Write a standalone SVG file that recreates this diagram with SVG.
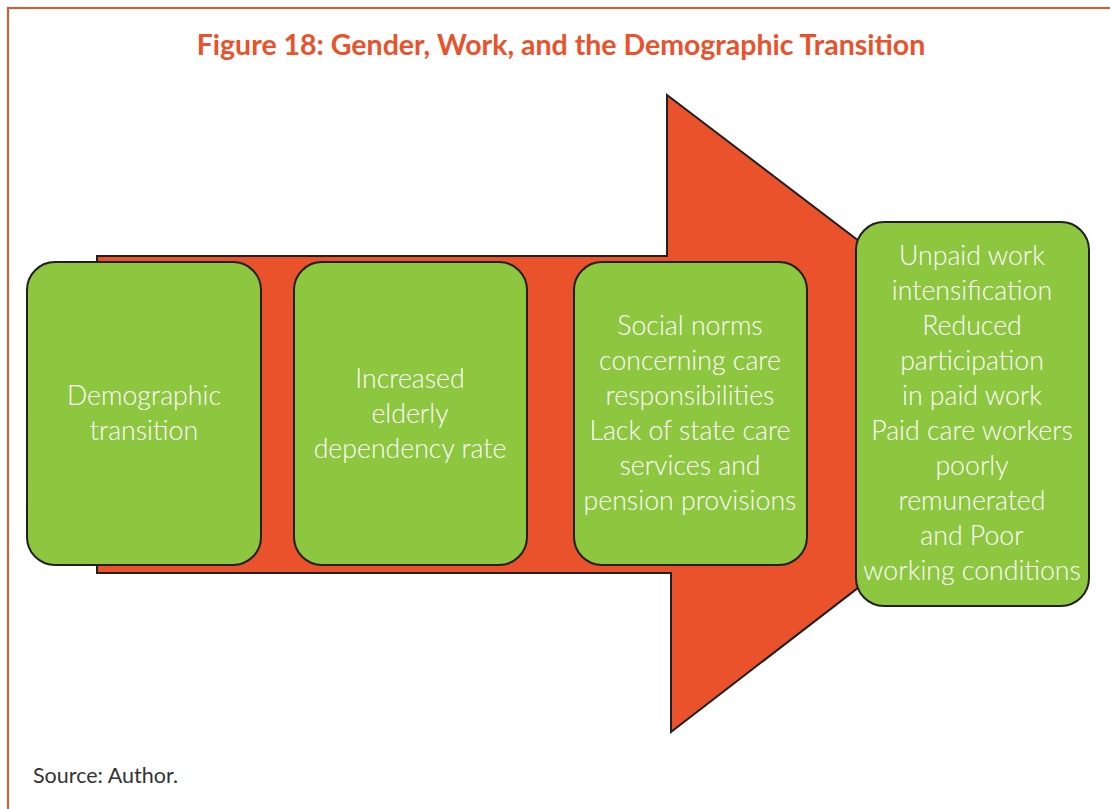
<svg xmlns="http://www.w3.org/2000/svg" width="1110" height="809" viewBox="0 0 1110 809">
<style>
.frame{fill:none;stroke:#E9522B;stroke-width:2}
.title{font-family:Lato,"Open Sans",sans-serif;font-weight:bold;font-size:28.5px;fill:#E9522B;text-anchor:middle}
.box{fill:#8DC63F;stroke:#231F20;stroke-width:2}
.arrow{fill:#E9522B;stroke:#231F20;stroke-width:2;stroke-linejoin:miter}
.lbl{font-family:Lato,"Open Sans",sans-serif;font-weight:300;font-size:26.7px;fill:#FFFFFF;text-anchor:middle}
.src{font-family:Lato,"Open Sans",sans-serif;font-size:21.5px;fill:#333333}
</style>
<rect width="1110" height="809" fill="#FFFFFF"/>
<path class="frame" d="M8,809 V8 H1110"/>
<text class="title" x="561" y="55">Figure 18: Gender, Work, and the Demographic Transition</text>
<g id="connectors">
<path class="arrow" d="M97,256 H667 V95 L1085,413 L671,732 V573 H97 Z"/>
</g>
<g id="node1">
<rect class="box" x="27" y="262" width="234" height="303" rx="28"/>
<text class="lbl" x="144" y="405">Demographic</text>
<text class="lbl" x="144" y="440">transition</text>
</g>
<g id="node2">
<rect class="box" x="294" y="262" width="233" height="303" rx="28"/>
<text class="lbl" x="410" y="388">Increased</text>
<text class="lbl" x="410" y="423">elderly</text>
<text class="lbl" x="410" y="458">dependency rate</text>
</g>
<g id="node3">
<rect class="box" x="574" y="262" width="233" height="303" rx="28"/>
<text class="lbl" x="690" y="335">Social norms</text>
<text class="lbl" x="690" y="370">concerning care</text>
<text class="lbl" x="690" y="405">responsibilities</text>
<text class="lbl" x="690" y="440">Lack of state care</text>
<text class="lbl" x="690" y="475">services and</text>
<text class="lbl" x="690" y="510">pension provisions</text>
</g>
<g id="node4">
<rect class="box" x="856" y="222" width="233" height="384" rx="28"/>
<text class="lbl" x="972" y="265">Unpaid work</text>
<text class="lbl" x="972" y="300">intensification</text>
<text class="lbl" x="972" y="335">Reduced</text>
<text class="lbl" x="972" y="370">participation</text>
<text class="lbl" x="972" y="405">in paid work</text>
<text class="lbl" x="972" y="440">Paid care workers</text>
<text class="lbl" x="972" y="475">poorly</text>
<text class="lbl" x="972" y="510">remunerated</text>
<text class="lbl" x="972" y="545">and Poor</text>
<text class="lbl" x="972" y="580">working conditions</text>
</g>
<text class="src" x="33" y="783">Source: Author.</text>
</svg>
